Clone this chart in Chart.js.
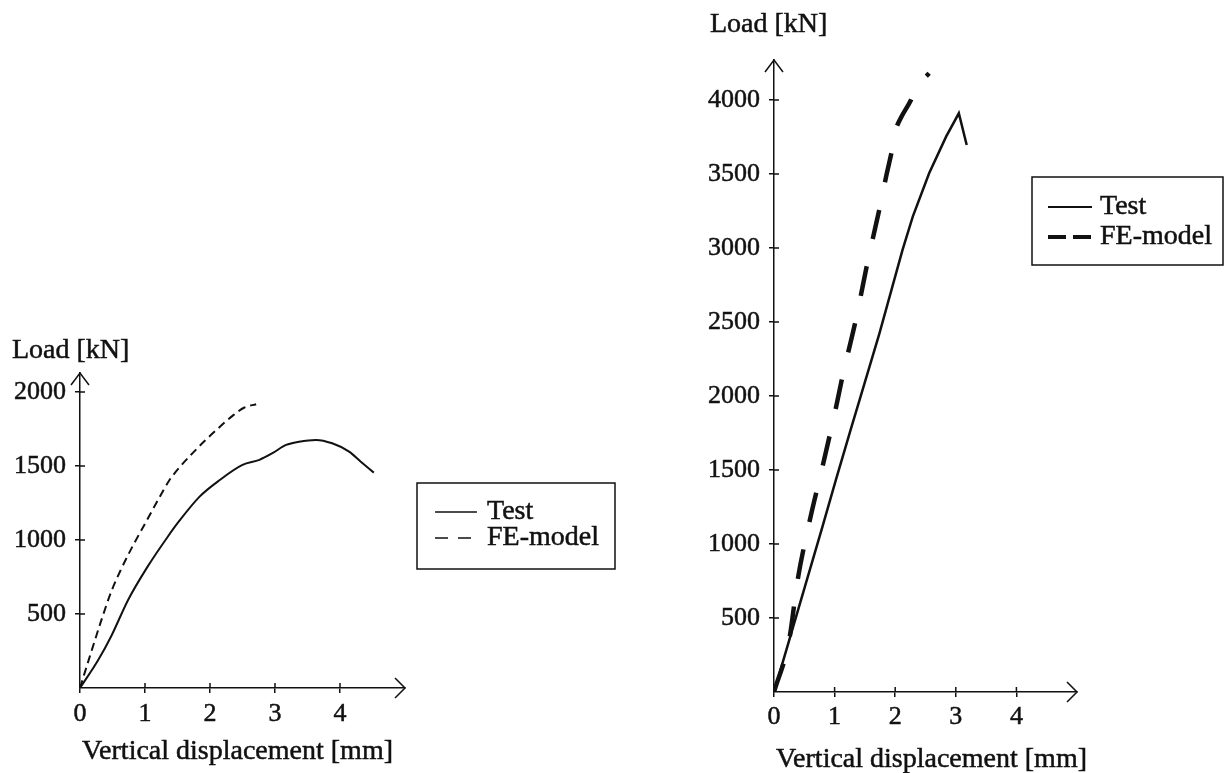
<!DOCTYPE html>
<html>
<head>
<meta charset="utf-8">
<script src="https://cdn.jsdelivr.net/npm/chart.js@4.4.0/dist/chart.umd.min.js"></script>
<style>
  html, body { margin: 0; padding: 0; background: #fff; }
  body { width: 1232px; height: 773px; position: relative; overflow: hidden; }
  .pane { position: absolute; }
</style>
</head>
<body>
<div class="pane" style="left:0;top:330px;"><canvas id="leftChart" width="640" height="443"></canvas></div>
<div class="pane" style="left:640px;top:0;"><canvas id="rightChart" width="592" height="773"></canvas></div>
<script>
// left specimen
var leftTestX = [0, 0.28, 0.48, 0.74, 1.04, 1.35, 1.53, 1.84, 2.15, 2.50, 2.76, 2.96, 3.17, 3.37, 3.63, 3.88, 4.14, 4.32, 4.52];
var leftTestY = [0, 189, 350, 595, 820, 1022, 1130, 1293, 1405, 1507, 1541, 1586, 1642, 1664, 1676, 1653, 1597, 1529, 1455];
var leftFeX = [0, 0.17, 0.33, 0.48, 0.63, 0.80, 1.00, 1.20, 1.37, 1.55, 1.74, 1.92, 2.09, 2.35, 2.53, 2.71];
var leftFeY = [0, 240, 460, 650, 800, 950, 1110, 1270, 1400, 1500, 1590, 1670, 1740, 1840, 1895, 1917];

// right specimen
var rightTestX = [0, 0.22, 0.51, 0.80, 1.02, 1.28, 1.42, 1.74, 2.12, 2.29, 2.56, 2.84, 3.05, 3.18];
var rightTestY = [0, 306, 712, 1117, 1432, 1793, 1984, 2423, 2986, 3212, 3505, 3752, 3910, 3696];
var rightFeX = [0, 0.25, 0.39, 0.58, 0.80, 1.02, 1.13, 1.35, 1.54, 1.76, 1.85, 1.96, 2.01, 2.09, 2.26, 2.34, 2.56];
var rightFeY = [0, 351, 757, 1140, 1522, 1917, 2131, 2514, 2896, 3302, 3482, 3685, 3797, 3876, 4000, 4079, 4180];

var seriesNames = ['Test', 'FE-model'];
var xTicks = [0, 1, 2, 3, 4];
var xTickLabels = ['0', '1', '2', '3', '4'];
var leftYTicks = [500, 1000, 1500, 2000];
var leftYTickLabels = ['500', '1000', '1500', '2000'];
var rightYTicks = [500, 1000, 1500, 2000, 2500, 3000, 3500, 4000];
var rightYTickLabels = ['500', '1000', '1500', '2000', '2500', '3000', '3500', '4000'];
var yTitle = 'Load [kN]';
var xTitle = 'Vertical displacement [mm]';

var ink = '#111';
var serif = "'Liberation Serif', 'Times New Roman', serif";

function pts(xs, ys) {
    return xs.map(function (x, i) { return { x: x, y: ys[i] }; });
}

function inkText(ctx, s, x, y) {
    ctx.fillText(s, x, y);
    ctx.strokeText(s, x, y);
}

// axis arrows, inner tick halves, titles and boxed legend
var sketchPlugin = {
    id: 'sketch',
    afterDraw: function (chart, args, o) {
        var ctx = chart.ctx, a = chart.chartArea;
        var xs = chart.scales.x, ys = chart.scales.y;
        ctx.save();
        ctx.strokeStyle = ink;
        ctx.lineWidth = 1.5;
        ctx.beginPath();
        ctx.moveTo(a.left - 9, a.top + 12); ctx.lineTo(a.left, a.top); ctx.lineTo(a.left + 9, a.top + 12);
        ctx.moveTo(a.right - 10, a.bottom - 10); ctx.lineTo(a.right, a.bottom); ctx.lineTo(a.right - 10, a.bottom + 10);
        ys.ticks.forEach(function (t) {
            var py = ys.getPixelForValue(t.value);
            ctx.moveTo(a.left, py); ctx.lineTo(a.left + 5, py);
        });
        xs.ticks.forEach(function (t) {
            if (t.value === 0) return;
            var px = xs.getPixelForValue(t.value);
            ctx.moveTo(px, a.bottom); ctx.lineTo(px, a.bottom - 5);
        });
        ctx.stroke();

        ctx.fillStyle = ink;
        ctx.font = '28px ' + serif;
        ctx.textAlign = 'left';
        ctx.textBaseline = 'middle';
        ctx.lineWidth = 0.5;
        inkText(ctx, yTitle, o.yTitleX, o.yTitleY);
        inkText(ctx, xTitle, a.left + 2, o.xTitleY);

        var L = o.legend;
        ctx.lineWidth = 1.5;
        ctx.setLineDash([]);
        ctx.strokeRect(L.x, L.y, L.w, L.h);
        chart.data.datasets.forEach(function (ds, i) {
            var yy = L.rows[i];
            ctx.beginPath();
            ctx.lineWidth = L.widths[i];
            ctx.setLineDash(L.dashes[i]);
            ctx.moveTo(L.lineX0, yy);
            ctx.lineTo(L.lineX1, yy);
            ctx.stroke();
            ctx.setLineDash([]);
            ctx.lineWidth = 0.5;
            inkText(ctx, ds.label, L.textX, yy);
        });
        ctx.restore();
    }
};

function makeScales(yMax, yTicks, yLabels, yWidth, xHeight, xPad) {
    var tickFont = { family: serif, size: 26 };
    return {
        x: {
            type: 'linear', min: 0, max: 5,
            afterBuildTicks: function (s) { s.ticks = xTicks.map(function (v) { return { value: v }; }); },
            afterFit: function (s) { s.height = xHeight; },
            grid: { drawOnChartArea: false, drawTicks: true, tickLength: 5, color: ink, lineWidth: 1.5 },
            border: { display: true, color: ink, width: 1.5 },
            ticks: { font: tickFont, color: ink, padding: xPad, maxRotation: 0,
                textStrokeColor: ink, textStrokeWidth: 0.5,
                callback: function (v, i) { return xTickLabels[i]; } }
        },
        y: {
            type: 'linear', min: 0, max: yMax,
            afterBuildTicks: function (s) { s.ticks = yTicks.map(function (v) { return { value: v }; }); },
            afterFit: function (s) { s.width = yWidth; },
            grid: { drawOnChartArea: false, drawTicks: true, tickLength: 5, color: ink, lineWidth: 1.5 },
            border: { display: true, color: ink, width: 1.5 },
            ticks: { font: tickFont, color: ink, padding: 9,
                textStrokeColor: ink, textStrokeWidth: 0.5,
                callback: function (v, i) { return yLabels[i]; } }
        }
    };
}

new Chart(document.getElementById('leftChart'), {
    type: 'line',
    data: {
        datasets: [{
            label: seriesNames[0],
            data: pts(leftTestX, leftTestY),
            borderColor: ink, borderWidth: 2, pointRadius: 0,
            cubicInterpolationMode: 'monotone', fill: false
        }, {
            label: seriesNames[1],
            data: pts(leftFeX, leftFeY),
            borderColor: ink, borderWidth: 2, borderDash: [8, 5], pointRadius: 0,
            cubicInterpolationMode: 'monotone', fill: false
        }]
    },
    options: {
        responsive: false, animation: false,
        layout: { padding: { top: 43, right: 235, bottom: 0, left: 0 } },
        scales: makeScales(2128, leftYTicks, leftYTickLabels, 80, 85, 6),
        plugins: {
            legend: { display: false },
            tooltip: { enabled: false },
            sketch: {
                yTitleX: 12, yTitleY: 21, xTitleY: 422,
                legend: { x: 417, y: 153, w: 198, h: 86, rows: [182, 208],
                    lineX0: 435, lineX1: 477, textX: 487,
                    widths: [1.5, 1.5], dashes: [[], [13, 10]] }
            }
        }
    },
    plugins: [sketchPlugin]
});

new Chart(document.getElementById('rightChart'), {
    type: 'line',
    data: {
        datasets: [{
            label: seriesNames[0],
            data: pts(rightTestX, rightTestY),
            borderColor: ink, borderWidth: 2.5, pointRadius: 0,
            tension: 0, fill: false
        }, {
            label: seriesNames[1],
            data: pts(rightFeX, rightFeY),
            borderColor: ink, borderWidth: 4.5, borderDash: [30, 28], pointRadius: 0,
            cubicInterpolationMode: 'monotone', fill: false
        }]
    },
    options: {
        responsive: false, animation: false,
        layout: { padding: { top: 60, right: 155, bottom: 0, left: 0 } },
        scales: makeScales(4270, rightYTicks, rightYTickLabels, 134, 81, 5),
        plugins: {
            legend: { display: false },
            tooltip: { enabled: false },
            sketch: {
                yTitleX: 70, yTitleY: 25, xTitleY: 760,
                legend: { x: 392, y: 177, w: 191, h: 88, rows: [207, 237],
                    lineX0: 408, lineX1: 452, textX: 460,
                    widths: [2, 4], dashes: [[], [18, 7]] }
            }
        }
    },
    plugins: [sketchPlugin]
});
</script>
</body>
</html>
